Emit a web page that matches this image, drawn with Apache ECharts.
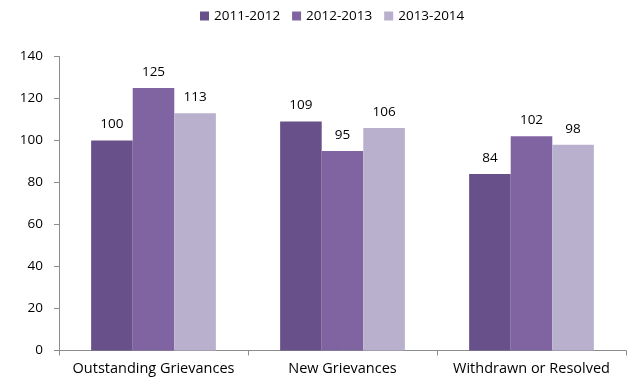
<!DOCTYPE html>
<html>
<head>
<meta charset="utf-8">
<script src="https://cdn.jsdelivr.net/npm/echarts@6/dist/echarts.min.js"></script>
<style>
  html, body { margin: 0; padding: 0; background: #fff; }
  #chart { width: 631px; height: 381px; }
</style>
</head>
<body>
<div id="chart"></div>
<script>
// Grievance counts per category, by reporting year
const categories = ['Outstanding Grievances', 'New Grievances', 'Withdrawn or Resolved'];
const seriesNames = ['2011-2012', '2012-2013', '2013-2014'];
const values2011 = [100, 109, 84];
const values2012 = [125, 95, 102];
const values2013 = [113, 106, 98];
const yTicks = [0, 20, 40, 60, 80, 100, 120, 140];

const colors = ['#68508A', '#8064A2', '#B8B0CD'];
const fontFamily = '"Open Sans", "Liberation Sans", sans-serif';

const seriesData = [values2011, values2012, values2013];

const chart = echarts.init(document.getElementById('chart'), null, { renderer: 'canvas' });

chart.setOption({
  animation: false,
  textStyle: { fontFamily: fontFamily },
  color: colors,
  legend: {
    top: 4,
    left: 195,
    icon: 'rect',
    itemWidth: 9,
    itemHeight: 9,
    itemGap: 12,
    textStyle: { fontSize: 13.5, color: '#000', fontFamily: fontFamily },
    data: seriesNames
  },
  grid: {
    left: 59,
    right: 5,
    top: 56.5,
    bottom: 30.5,
    containLabel: false
  },
  xAxis: {
    type: 'category',
    data: categories,
    axisLine: { lineStyle: { color: '#8C8C8C', width: 1 } },
    axisTick: { show: true, length: 5, lineStyle: { color: '#8C8C8C' } },
    axisLabel: { color: '#000', fontSize: 14.5, margin: 11, interval: 0 }
  },
  yAxis: {
    type: 'value',
    min: yTicks[0],
    max: yTicks[yTicks.length - 1],
    interval: yTicks[1] - yTicks[0],
    axisLine: { show: true, lineStyle: { color: '#8C8C8C', width: 1 } },
    axisTick: { show: true, length: 5, lineStyle: { color: '#8C8C8C' } },
    splitLine: { show: false },
    axisLabel: { color: '#000', fontSize: 13.5, margin: 16 }
  },
  series: seriesNames.map((name, i) => ({
    name: name,
    type: 'bar',
    data: seriesData[i],
    barGap: '0%',
    barCategoryGap: '34%',
    itemStyle: { color: colors[i] },
    label: {
      show: true,
      position: 'top',
      distance: 9,
      color: '#000',
      fontSize: 13.5,
      fontFamily: fontFamily
    }
  }))
});
</script>
</body>
</html>
